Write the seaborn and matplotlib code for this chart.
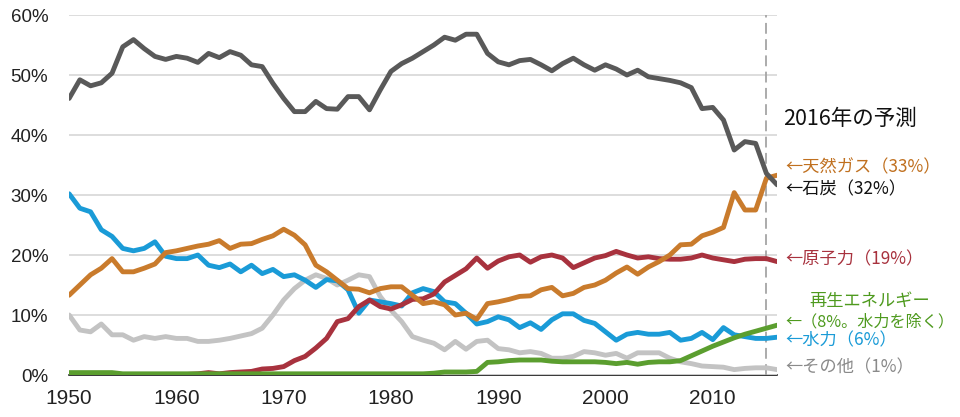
import numpy as np
import pandas as pd
import matplotlib
matplotlib.use("Agg")
import matplotlib.pyplot as plt
import matplotlib.transforms as mtransforms
import seaborn as sns

years = list(range(1950, 2017))

coal = [46.1, 49.2, 48.2, 48.7, 50.3, 54.7, 55.9, 54.4, 53.1, 52.6,
        53.1, 52.8, 52.1, 53.6, 52.9, 53.9, 53.3, 51.7, 51.4, 48.6,
        46.1, 43.9, 43.9, 45.6, 44.4, 44.3, 46.4, 46.4, 44.2, 47.5,
        50.6, 51.9, 52.8, 53.9, 55.0, 56.3, 55.8, 56.8, 56.8, 53.6,
        52.2, 51.7, 52.4, 52.6, 51.7, 50.7, 51.9, 52.8, 51.7, 50.8,
        51.7, 51.0, 50.0, 50.8, 49.7, 49.4, 49.1, 48.7, 47.9, 44.4,
        44.6, 42.5, 37.5, 38.9, 38.6, 33.6, 31.7]

gas = [13.3, 15.0, 16.7, 17.8, 19.4, 17.2, 17.2, 17.8, 18.5, 20.4,
       20.7, 21.1, 21.5, 21.8, 22.4, 21.1, 21.8, 21.9, 22.6, 23.2,
       24.3, 23.3, 21.7, 18.3, 17.2, 15.8, 14.4, 14.3, 13.7, 14.4,
       14.7, 14.7, 13.3, 11.9, 12.2, 11.7, 10.0, 10.3, 9.3, 11.9,
       12.2, 12.6, 13.1, 13.2, 14.2, 14.6, 13.2, 13.6, 14.6, 15.0,
       15.8, 17.0, 18.0, 16.8, 18.0, 18.9, 20.0, 21.7, 21.8, 23.2,
       23.8, 24.6, 30.4, 27.5, 27.5, 32.8, 33.3]

nuclear = [np.nan, np.nan, np.nan, np.nan, np.nan, np.nan, np.nan, 0.0, 0.0, 0.1,
           0.1, 0.1, 0.2, 0.4, 0.2, 0.4, 0.5, 0.6, 1.0, 1.1,
           1.4, 2.4, 3.1, 4.5, 6.1, 8.9, 9.4, 11.4, 12.5, 11.4,
           11.0, 11.7, 12.6, 12.7, 13.5, 15.5, 16.6, 17.7, 19.5, 17.8,
           19.0, 19.7, 20.0, 18.8, 19.7, 20.0, 19.5, 17.9, 18.7, 19.5,
           19.9, 20.6, 20.0, 19.5, 19.7, 19.4, 19.3, 19.3, 19.5, 20.0,
           19.5, 19.2, 18.9, 19.3, 19.4, 19.4, 18.9]

hydro = [30.2, 27.8, 27.2, 24.2, 23.1, 21.1, 20.7, 21.1, 22.2, 19.8,
         19.4, 19.4, 20.0, 18.3, 17.9, 18.5, 17.2, 18.3, 16.9, 17.6,
         16.4, 16.7, 15.8, 14.6, 15.9, 15.7, 14.2, 10.3, 12.5, 12.2,
         11.9, 11.5, 13.7, 14.4, 13.9, 12.2, 11.9, 10.3, 8.5, 8.9,
         9.7, 9.2, 7.9, 8.7, 7.6, 9.2, 10.2, 10.2, 9.1, 8.6,
         7.2, 5.8, 6.8, 7.1, 6.8, 6.8, 7.1, 5.8, 6.1, 7.1,
         5.9, 7.9, 6.7, 6.4, 6.1, 6.1, 6.3]

other = [10.0, 7.5, 7.2, 8.5, 6.7, 6.7, 5.8, 6.4, 6.1, 6.4,
         6.1, 6.1, 5.6, 5.6, 5.8, 6.1, 6.5, 6.9, 7.8, 10.0,
         12.5, 14.4, 15.8, 16.7, 16.1, 15.0, 15.8, 16.7, 16.4, 13.1,
         10.8, 8.9, 6.4, 5.8, 5.3, 4.2, 5.6, 4.3, 5.6, 5.8,
         4.4, 4.2, 3.7, 3.9, 3.6, 2.8, 2.8, 3.1, 3.9, 3.7,
         3.3, 3.6, 2.8, 3.7, 3.7, 3.7, 2.8, 2.2, 1.9, 1.5,
         1.4, 1.3, 0.9, 1.1, 1.2, 1.2, 0.9]

renew = [0.4, 0.4, 0.4, 0.4, 0.4, 0.2, 0.2, 0.2, 0.2, 0.2,
         0.2, 0.2, 0.2, 0.2, 0.2, 0.2, 0.2, 0.2, 0.2, 0.2,
         0.2, 0.2, 0.2, 0.2, 0.2, 0.2, 0.2, 0.2, 0.2, 0.2,
         0.2, 0.2, 0.2, 0.2, 0.3, 0.5, 0.5, 0.5, 0.6, 2.1,
         2.2, 2.4, 2.5, 2.5, 2.5, 2.3, 2.2, 2.2, 2.2, 2.2,
         2.1, 1.9, 2.1, 1.8, 2.1, 2.2, 2.2, 2.4, 3.2, 4.0,
         4.8, 5.5, 6.2, 6.8, 7.3, 7.8, 8.3]

series_names = ["その他", "水力", "原子力", "天然ガス", "再生エネルギー", "石炭"]
series_values = [other, hydro, nuclear, gas, renew, coal]
series_colors = ["#c3c3c3", "#1a9bd7", "#a8323e", "#c97b2c", "#5b9e2f", "#595959"]

y_ticks = [0, 10, 20, 30, 40, 50, 60]
y_tick_labels = ["0%", "10%", "20%", "30%", "40%", "50%", "60%"]
x_major = [1950, 1960, 1970, 1980, 1990, 2000, 2010]
x_minor = [1955, 1965, 1975, 1985, 1995, 2005, 2015]

forecast_year = 2015

labels = [
    ("←天然ガス（33%）", 34.6, "#c0701f", 12.4),
    ("←石炭（32%）", 31.0, "#111111", 12.4),
    ("←原子力（19%）", 19.3, "#a8323e", 12.4),
    ("←（8%。水力を除く）", 8.9, "#4e9a1e", 11.6),
    ("←水力（6%）", 5.7, "#1a9bd7", 12.4),
    ("←その他（1%）", 1.2, "#8a8a8a", 12.4),
]

df = pd.DataFrame({
    "year": np.tile(years, len(series_names)),
    "share": np.concatenate([np.array(v, dtype=float) for v in series_values]),
    "source": np.repeat(series_names, len(years)),
})

sns.set_style("white")
plt.rcParams["font.family"] = ["Noto Sans CJK JP", "DejaVu Sans"]

fig = plt.figure(figsize=(9.6, 4.17), dpi=100)
ax = fig.add_axes([0.072, 0.1007, 0.7375, 0.8633])

sns.lineplot(data=df, x="year", y="share", hue="source", hue_order=series_names,
             palette=dict(zip(series_names, series_colors)), linewidth=3.5,
             legend=False, ax=ax, estimator=None)

ax.set_xlim(1950, 2016)
ax.set_ylim(0, 60)
ax.set_yticks(y_ticks)
ax.set_yticklabels(y_tick_labels, family="Liberation Sans", fontsize=13.5, color="#222222")
ax.set_xticks(x_major)
ax.set_xticklabels([str(v) for v in x_major], family="Liberation Sans", fontsize=15, color="#222222")
ax.set_xticks(x_minor, minor=True)
ax.tick_params(axis="y", length=0, pad=15)
ax.tick_params(axis="x", which="both", direction="out", length=5, width=1.1, color="black", pad=5)
ax.set_xlabel("")
ax.set_ylabel("")

for s in ["top", "right", "left"]:
    ax.spines[s].set_visible(False)
ax.spines["bottom"].set_color("black")
ax.spines["bottom"].set_linewidth(1.1)
ax.spines["bottom"].set_zorder(0.5)

ax.yaxis.grid(True, color="#dadada", linewidth=1.3)
ax.xaxis.grid(False)
ax.set_axisbelow(True)

ax.axvline(forecast_year, color="#a5a5a5", linewidth=1.3, linestyle=(0, (6, 3)), zorder=1)

trans = mtransforms.blended_transform_factory(ax.transAxes, ax.transData)
ax.text(1.008, 42.7, "2016年の予測", transform=trans, fontsize=15.5, color="#111111",
        ha="left", va="center")
for txt, yv, col, fs in labels:
    ax.text(1.0115, yv, txt, transform=trans, fontsize=fs, color=col, ha="left", va="center")
ax.text(1.1315, 12.3, "再生エネルギー", transform=trans, fontsize=12.4, color="#4e9a1e",
        ha="center", va="center")

fig.savefig("out.png", dpi=100)
